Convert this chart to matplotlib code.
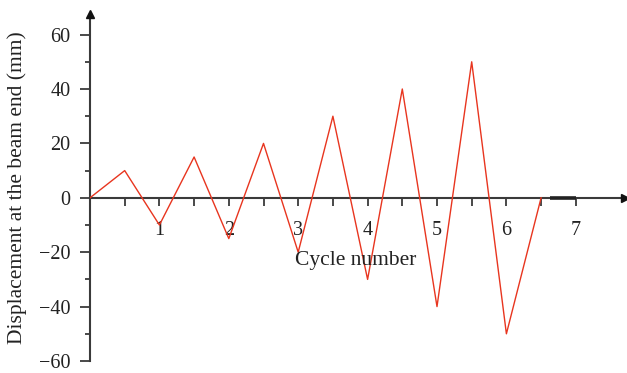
import matplotlib
matplotlib.use("Agg")
import matplotlib.pyplot as plt
from matplotlib.ticker import MultipleLocator, FixedLocator

# Loading history: displacement at each half cycle
cycle = [0, 0.5, 1, 1.5, 2, 2.5, 3, 3.5, 4, 4.5, 5, 5.5, 6, 6.5]
displacement = [0, 10, -10, 15, -15, 20, -20, 30, -30, 40, -40, 50, -50, 0]
# Resting segment after loading
rest_cycle = [6.63, 7.0]
rest_disp = [0, 0]

x_ticks = [1, 2, 3, 4, 5, 6, 7]
y_ticks = [-60, -40, -20, 0, 20, 40, 60]

plt.rcParams['font.family'] = ['Liberation Serif', 'DejaVu Serif']

fig = plt.figure(figsize=(6.27, 3.73), dpi=100)
x0, x1 = 90, 625
y_top, y_bot = 14, 361
ax = fig.add_axes([x0 / 627, (373 - y_bot) / 373, (x1 - x0) / 627, (y_bot - y_top) / 373])

axis_col = '#3a3a3a'
text_col = '#222222'
ax.plot(cycle, displacement, color='#e8351f', lw=1.0, zorder=3)
ax.plot(rest_cycle, rest_disp, color='#222222', lw=2.6, zorder=4, solid_capstyle='butt')

ax.set_xlim(0, (x1 - x0) / 69.4)
ax.set_ylim(-60, -60 + (y_bot - y_top) / 2.72)

for s in ['top', 'right']:
    ax.spines[s].set_visible(False)
ax.spines['bottom'].set_position(('data', 0))
for s in ['bottom', 'left']:
    ax.spines[s].set_color(axis_col)
    ax.spines[s].set_linewidth(1.5)

# Arrow heads at the ends of both axes
ax.plot(1, 0, marker='>', color='#111111', markersize=6,
        transform=ax.get_yaxis_transform(), clip_on=False, zorder=5)
ax.plot(0, 1, marker='^', color='#111111', markersize=6,
        transform=ax.get_xaxis_transform(), clip_on=False, zorder=5)

ax.xaxis.set_major_locator(FixedLocator(x_ticks))
ax.xaxis.set_minor_locator(FixedLocator([0.5, 1.5, 2.5, 3.5, 4.5, 5.5, 6.5]))
ax.set_xticklabels([str(v) for v in x_ticks])
ax.yaxis.set_major_locator(FixedLocator(y_ticks))
ax.yaxis.set_minor_locator(MultipleLocator(10))
ax.set_yticklabels(['\u221260', '\u221240', '\u221220', '0', '20', '40', '60'])

ax.tick_params(axis='x', which='both', direction='out', length=5.5, width=1.3,
               color=axis_col, labelsize=14.5, pad=11, labelcolor=text_col)
ax.tick_params(axis='y', which='major', direction='out', length=7, width=1.3,
               color=axis_col, labelsize=14.5, pad=7, labelcolor=text_col)
ax.tick_params(axis='y', which='minor', direction='out', length=3.8, width=1.3,
               color=axis_col)

ax.text(356 / 627, 1 - 260 / 373, 'Cycle number', fontsize=15.5, ha='center', va='center',
        color=text_col, transform=fig.transFigure)
fig.text(17 / 627, 1 - 188 / 373, 'Displacement at the beam end (mm)', fontsize=15.5,
         rotation=90, ha='center', va='center', color=text_col)

fig.savefig('out.png', dpi=100)
